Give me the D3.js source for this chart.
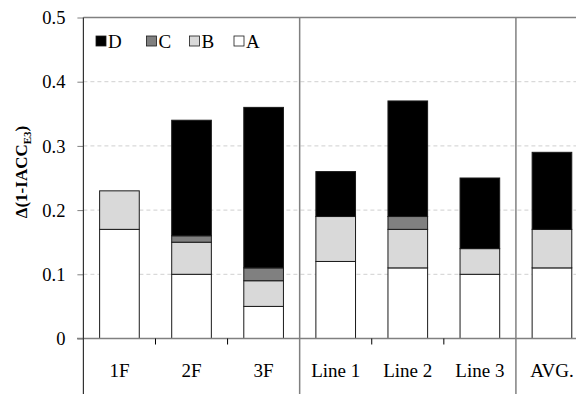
<!DOCTYPE html>
<html><head><meta charset="utf-8">
<script src="https://cdn.jsdelivr.net/npm/d3@7"></script>
<style>body{margin:0;background:#fff}svg{display:block}text{font-family:"Liberation Serif","DejaVu Serif",serif}</style>
</head><body>
<svg id="c" width="576" height="394"></svg>
<script>
const categories = ["1F","2F","3F","Line 1","Line 2","Line 3","AVG."];
const seriesA = [0.17,0.10,0.05,0.12,0.11,0.10,0.11];
const seriesB = [0.06,0.05,0.04,0.07,0.06,0.04,0.06];
const seriesC = [0.00,0.01,0.02,0.00,0.02,0.00,0.00];
const seriesD = [0.00,0.18,0.25,0.07,0.18,0.11,0.12];
const yTicks = [0,0.1,0.2,0.3,0.4,0.5];
const legendKeys = ["D","C","B","A"];
const groupBreaks = ["Line 1","AVG."];

const colors = {A:"#ffffff",B:"#d9d9d9",C:"#808080",D:"#000000"};
const svg = d3.select("#c");
const mLeft = 83.4, mTop = 17.5, mBottom = 338.5, mRight = 588;
const x = d3.scaleBand().domain(categories).range([mLeft,mRight]).paddingInner(0.45).paddingOuter(0.225);
const xb = d3.scaleBand().domain(categories).range([mLeft,mRight]);
const y = d3.scaleLinear().domain([0,0.5]).range([mBottom,mTop]);

// grid
svg.append("g").selectAll("line").data(yTicks.filter(d=>d>0 && d<0.5)).join("line")
  .attr("x1",mLeft).attr("x2",576).attr("y1",d=>y(d)).attr("y2",d=>y(d))
  .attr("stroke","#d9d9d9").attr("stroke-width",1.2).attr("stroke-dasharray","4,3");

// stacked data
const rows = categories.map((c,i)=>({cat:c,A:seriesA[i],B:seriesB[i],C:seriesC[i],D:seriesD[i]}));
const stack = d3.stack().keys(["A","B","C","D"])(rows);
svg.append("g").selectAll("g").data(stack).join("g")
  .attr("fill",d=>colors[d.key])
  .selectAll("rect").data(d=>d.filter(v=>v[1]-v[0]>0.0001)).join("rect")
  .attr("x",d=>x(d.data.cat)).attr("width",x.bandwidth())
  .attr("y",d=>y(d[1])).attr("height",d=>y(d[0])-y(d[1]))
  .attr("stroke","#1a1a1a").attr("stroke-width",1);

// top border
svg.append("line").attr("x1",mLeft).attr("x2",576).attr("y1",mTop).attr("y2",mTop)
  .attr("stroke","#808080").attr("stroke-width",1.5);

// group separators
svg.append("g").selectAll("line").data(groupBreaks).join("line")
  .attr("x1",d=>xb(d)).attr("x2",d=>xb(d)).attr("y1",mTop).attr("y2",394)
  .attr("stroke","#808080").attr("stroke-width",1.5);

// x axis line
svg.append("line").attr("x1",77).attr("x2",576).attr("y1",mBottom).attr("y2",mBottom)
  .attr("stroke","#808080").attr("stroke-width",1.5);
// small x ticks
svg.append("g").selectAll("line").data(categories.slice(1).filter(c=>!groupBreaks.includes(c))).join("line")
  .attr("x1",d=>xb(d)).attr("x2",d=>xb(d)).attr("y1",mBottom).attr("y2",mBottom+6)
  .attr("stroke","#000").attr("stroke-width",1);

// y axis
const yAxis = d3.axisLeft(y).tickValues(yTicks).tickFormat(d=>d===0?"0":d3.format(".1f")(d)).tickSize(6).tickPadding(12);
const ya = svg.append("g").attr("transform",`translate(${mLeft},0)`).call(yAxis);
ya.attr("font-family",null).attr("font-size",null);
ya.select(".domain").remove();
ya.selectAll(".tick line").attr("stroke","#808080");
ya.selectAll(".tick text").style("font-size","18.5px").style("font-family","'Liberation Serif', serif").attr("fill","#000").attr("dy","0.34em");
svg.append("line").attr("x1",mLeft).attr("x2",mLeft).attr("y1",mTop).attr("y2",394)
  .attr("stroke","#333").attr("stroke-width",1.2);

// x labels
svg.append("g").selectAll("text").data(categories).join("text")
  .attr("x",d=>xb(d)+xb.bandwidth()/2).attr("y",377).attr("text-anchor","middle")
  .style("font-size","19px").text(d=>d);

// y title
const yt = svg.append("text").attr("transform","translate(27,172) rotate(-90)")
  .attr("text-anchor","middle").style("font-size","17px").attr("font-weight","bold");
yt.append("tspan").text("Δ(1-IACC");
yt.append("tspan").style("font-size","11px").attr("dy",4).text("E3");
yt.append("tspan").attr("dy",-4).text(")");

// legend
const lg = svg.append("g").selectAll("g").data(legendKeys).join("g")
  .attr("transform",(d,i)=>`translate(${[96,146.5,189.5,234][i]},36)`);
lg.append("rect").attr("width",10).attr("height",10).attr("fill",d=>colors[d]).attr("stroke","#1a1a1a").attr("stroke-width",0.8);
lg.append("text").attr("x",12).attr("y",11.5).style("font-size","19px").text(d=>d);
</script>
</body></html>
